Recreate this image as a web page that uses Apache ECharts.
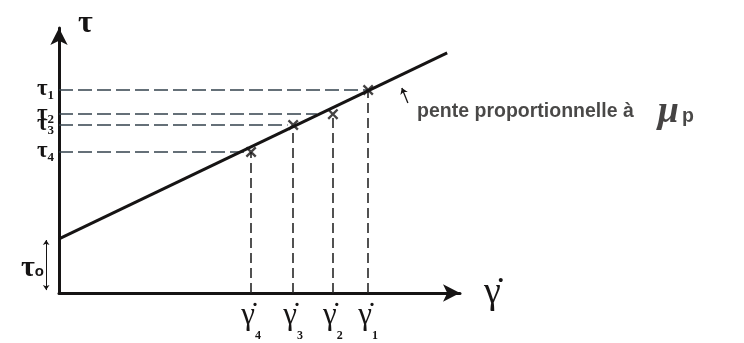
<!DOCTYPE html>
<html>
<head>
<meta charset="utf-8">
<script src="https://cdn.jsdelivr.net/npm/echarts@6/dist/echarts.min.js"></script>
<style>
  html, body { margin: 0; background: #fff; }
  #chart { width: 744px; height: 343px; }
</style>
</head>
<body>
<div id="chart"></div>
<script>
// Bingham plastic: tau = tau0 + mu_p * gamma_dot
const tau0 = 20.4
const lineEnd = [96.8, 90.6]
const subNames = ['1', '2', '3', '4']
const gammaVals = [77.1, 68.3, 58.4, 47.9]   // gamma_dot 1..4
const tauVals = [76.6, 67.5, 63.4, 53.2]     // tau 1..4
const dashEnds = [77.1, 64.3, 57, 47]        // where the horizontal dashes stop
const noteArrow = [[87, 71.7], [85.5, 77.4]]
const noteAt = [89.3, 68.4]
const tau0Arrow = [[-3.2, 20], [-3.2, 1.1]]

const ink = '#161414'
const dashColor = '#33414c'
const serif = 'Liberation Serif'

const hDashes = tauVals.map((t, i) => ({ coords: [[0, t], [dashEnds[i], t]] }))
const vDashes = gammaVals.map((g, i) => ({ coords: [[g, 0], [g, tauVals[i]]] }))

const option = {
  animation: false,
  grid: { left: 59, right: 284, top: 28, bottom: 50 },
  xAxis: {
    type: 'value',
    min: 0,
    max: 100,
    name: 'γ̇',
    nameLocation: 'end',
    nameGap: 24,
    nameTextStyle: { fontFamily: serif, fontSize: 38, color: ink, align: 'left', verticalAlign: 'middle' },
    axisLine: {
      lineStyle: { color: ink, width: 3 },
      symbol: ['none', 'arrow'],
      symbolSize: [13, 17]
    },
    axisTick: { show: false },
    splitLine: { show: false },
    axisLabel: {
      customValues: gammaVals,
      margin: 7,
      formatter(val) {
        const i = gammaVals.indexOf(val)
        return '{g|γ̇}{s|' + subNames[i] + '}'
      },
      rich: {
        g: { fontFamily: serif, fontSize: 31, color: ink, lineHeight: 42, verticalAlign: 'top' },
        s: { fontFamily: serif, fontWeight: 'bold', fontSize: 12, color: ink, lineHeight: 10, verticalAlign: 'bottom' }
      }
    }
  },
  yAxis: {
    type: 'value',
    min: 0,
    max: 100,
    name: 'τ',
    nameLocation: 'end',
    nameGap: 4,
    nameTextStyle: { fontFamily: serif, fontWeight: 'bold', fontSize: 32, color: ink, align: 'left', verticalAlign: 'middle', padding: [0, 0, 0, 19] },
    axisLine: {
      lineStyle: { color: ink, width: 3 },
      symbol: ['none', 'arrow'],
      symbolSize: [13, 17]
    },
    axisTick: { show: false },
    splitLine: { show: false },
    axisLabel: {
      customValues: tauVals.concat([tau0 / 2]),
      margin: 5,
      formatter(val) {
        const i = tauVals.indexOf(val)
        if (i < 0) return '{t0|τ}{s0|o}{gap|}'
        return '{h|}{t|τ}{s|' + subNames[i] + '}'
      },
      rich: {
        h: { width: 0, lineHeight: 24 },
        t: { fontFamily: serif, fontWeight: 'bold', fontSize: 23, color: ink, lineHeight: 16, verticalAlign: 'top' },
        s: { fontFamily: serif, fontWeight: 'bold', fontSize: 13, color: ink, lineHeight: 8, verticalAlign: 'bottom' },
        t0: { fontFamily: serif, fontWeight: 'bold', fontSize: 30, color: ink, lineHeight: 26, verticalAlign: 'top' },
        s0: { fontFamily: 'Liberation Sans', fontWeight: 'bold', fontSize: 15, color: ink, lineHeight: 14, verticalAlign: 'bottom' },
        gap: { width: 10 }
      }
    }
  },
  series: [
    {
      type: 'lines',
      coordinateSystem: 'cartesian2d',
      silent: true,
      lineStyle: { color: dashColor, width: 1.6, type: [14, 5], opacity: 1 },
      data: hDashes
    },
    {
      type: 'lines',
      coordinateSystem: 'cartesian2d',
      silent: true,
      lineStyle: { color: '#262626', width: 1.6, type: [10, 5], opacity: 1 },
      data: vDashes
    },
    {
      type: 'line',
      symbol: 'none',
      silent: true,
      lineStyle: { color: ink, width: 3 },
      data: [[0, tau0], lineEnd]
    },
    {
      type: 'scatter',
      symbol: 'path://M0,1.5L1.5,0L5,3.5L8.5,0L10,1.5L6.5,5L10,8.5L8.5,10L5,6.5L1.5,10L0,8.5L3.5,5Z',
      symbolSize: 11,
      itemStyle: { color: ink },
      data: gammaVals.map((g, i) => [g, tauVals[i]])
    },
    {
      type: 'lines',
      coordinateSystem: 'cartesian2d',
      silent: true,
      symbol: ['none', 'arrow'],
      symbolSize: 6,
      lineStyle: { color: ink, width: 1.3, opacity: 1 },
      data: [{ coords: noteArrow }]
    },
    {
      type: 'lines',
      coordinateSystem: 'cartesian2d',
      silent: true,
      clip: false,
      symbol: ['arrow', 'arrow'],
      symbolSize: 5,
      lineStyle: { color: ink, width: 1, opacity: 1 },
      data: [{ coords: tau0Arrow }]
    },
    {
      type: 'scatter',
      symbolSize: 0,
      silent: true,
      data: [noteAt],
      label: {
        show: true,
        position: 'right',
        distance: 0,
        formatter: '{n|pente proportionnelle à}{sp|}{mu|μ}{p|p}',
        rich: {
          n: { fontFamily: 'Liberation Sans', fontWeight: 'bold', fontSize: 19.5, color: '#1c1a19', verticalAlign: 'middle' },
          sp: { width: 24 },
          mu: { fontFamily: serif, fontStyle: 'italic', fontWeight: 'bold', fontSize: 38, color: ink, verticalAlign: 'middle', padding: [0, 3, 0, 0] },
          p: { fontFamily: 'Liberation Sans', fontWeight: 'bold', fontSize: 19.5, color: '#1c1a19', verticalAlign: 'middle', padding: [10, 0, 0, 0] }
        }
      }
    }
  ]
}

const chart = echarts.init(document.getElementById('chart'))
chart.setOption(option)
</script>
</body>
</html>
